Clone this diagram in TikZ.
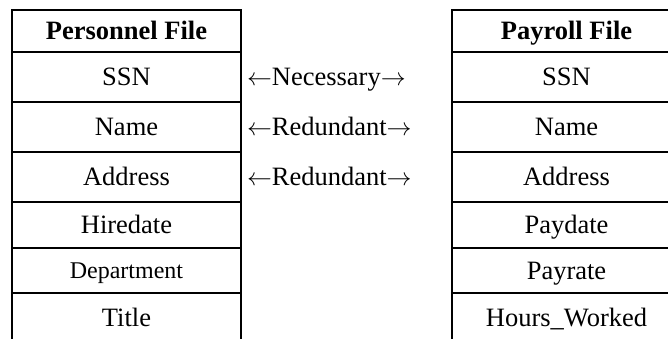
\documentclass[tikz,border=0pt]{standalone}
\usepackage{fontspec}
\setmainfont{Liberation Serif}
\usetikzlibrary{positioning}
\tikzstyle{cell} = [rectangle, draw=black, line width=2.6pt, outer sep=0pt, inner sep=0pt, minimum width=229pt, minimum height=50pt, text centered, font=\fontsize{26.5}{30}\selectfont, text height=17.5pt, text depth=0pt]
\tikzstyle{head} = [cell, minimum height=42pt, font=\bfseries\fontsize{26.5}{30}\selectfont]
\tikzstyle{small} = [cell, font=\fontsize{24}{28}\selectfont, text height=15.9pt]
\tikzstyle{link} = [inner sep=0pt, outer sep=0pt, font=\fontsize{26.5}{30}\selectfont, text height=17.5pt, text depth=0pt]

\begin{document}
\begin{tikzpicture}
			[x=1pt, y=1pt, node distance=0pt]
			\useasboundingbox (0,0) rectangle (668,-339);

			% personnel file
			\node (perHead) [head] at (126.5,-31) {Personnel File};
			\node (perSSN) [cell, below = of perHead] {SSN};
			\node (perName) [cell, below = of perSSN] {Name};
			\node (perAddress) [cell, below = of perName] {Address};
			\node (perHire) [cell, minimum height=46pt, below = of perAddress] {Hiredate};
			\node (perDept) [small, minimum height=45pt, below = of perHire] {Department};
			\node (perTitle) [cell, below = of perDept] {Title};

			% payroll file
			\node (payHead) [head, right = 211pt of perHead] {Payroll File};
			\node (paySSN) [cell, below = of payHead] {SSN};
			\node (payName) [cell, below = of paySSN] {Name};
			\node (payAddress) [cell, below = of payName] {Address};
			\node (payDate) [cell, minimum height=46pt, below = of payAddress] {Paydate};
			\node (payRate) [cell, minimum height=45pt, below = of payDate] {Payrate};
			\node (payHours) [cell, below = of payRate] {Hours\_Worked};

			\node (necSSN) [link, right = 6pt of perSSN] {$\leftarrow$Necessary$\rightarrow$};
			\node (redName) [link, right = 6pt of perName] {$\leftarrow$Redundant$\rightarrow$};
			\node (redAddress) [link, right = 6pt of perAddress] {$\leftarrow$Redundant$\rightarrow$};

			\end{tikzpicture}
\end{document}
